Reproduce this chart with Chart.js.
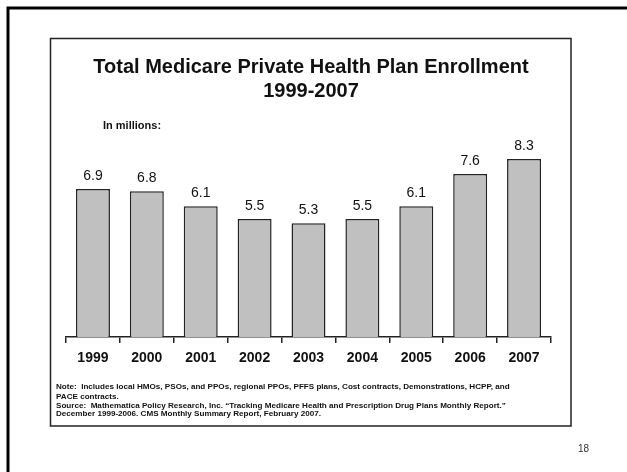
<!DOCTYPE html>
<html>
<head>
<meta charset="utf-8">
<title>Total Medicare Private Health Plan Enrollment 1999-2007</title>
<script src="https://cdn.jsdelivr.net/npm/chart.js@4/dist/chart.umd.min.js"></script>
<style>
  html, body { margin: 0; padding: 0; background: #fff; }
  #wrap { width: 627px; height: 472px; position: relative; }
</style>
</head>
<body>
<div id="wrap"><canvas id="chart" width="627" height="472"></canvas></div>
<script>
// Enrollment by year, in millions
const years = ['1999', '2000', '2001', '2002', '2003', '2004', '2005', '2006', '2007'];
const enrollment = [6.9, 6.8, 6.1, 5.5, 5.3, 5.5, 6.1, 7.6, 8.3];

const titleLines = ['Total Medicare Private Health Plan Enrollment', '1999-2007'];
const unitLabel = 'In millions:';
const noteLines = [
  'Note:  Includes local HMOs, PSOs, and PPOs, regional PPOs, PFFS plans, Cost contracts, Demonstrations, HCPP, and',
  'PACE contracts.',
  'Source:  Mathematica Policy Research, Inc. \u201cTracking Medicare Health and Prescription Drug Plans Monthly Report.\u201d',
  'December 1999-2006. CMS Monthly Summary Report, February 2007.'
];
const pageNumber = '18';

const FONT = '"Liberation Sans", Arial, Helvetica, sans-serif';
const INK = '#111';

// Slide frame, boxed panel, headings and footnotes
const decorations = {
  id: 'decorations',
  beforeDraw(chart) {
    const ctx = chart.ctx;
    ctx.save();
    ctx.fillStyle = '#fff';
    ctx.fillRect(0, 0, chart.width, chart.height);
    // slide frame: top and left rules
    ctx.strokeStyle = '#000';
    ctx.lineWidth = 3;
    ctx.beginPath();
    ctx.moveTo(6.5, 8); ctx.lineTo(chart.width, 8);
    ctx.moveTo(8, 6.5); ctx.lineTo(8, chart.height);
    ctx.stroke();
    // panel box
    ctx.lineWidth = 1.5;
    ctx.strokeStyle = '#222';
    ctx.strokeRect(50.5, 38.5, 520.5, 387.5);
    ctx.restore();
  },
  afterDraw(chart) {
    const ctx = chart.ctx;
    ctx.save();
    ctx.fillStyle = INK;
    ctx.textBaseline = 'alphabetic';
    ctx.textAlign = 'center';
    ctx.font = 'bold 20px ' + FONT;
    ctx.fillText(titleLines[0], 311, 72.5);
    ctx.fillText(titleLines[1], 311, 96.5);
    ctx.textAlign = 'left';
    ctx.font = 'bold 11px ' + FONT;
    ctx.fillText(unitLabel, 103, 129);
    ctx.font = 'bold 8.1px ' + FONT;
    const noteY = [389, 399, 408, 416];
    noteLines.forEach((t, i) => ctx.fillText(t, 56, noteY[i]));
    ctx.font = '10px ' + FONT;
    ctx.fillStyle = '#333';
    ctx.fillText(pageNumber, 578, 452);
    ctx.restore();
  }
};

// Value labels above each bar
const valueLabels = {
  id: 'valueLabels',
  afterDatasetsDraw(chart) {
    const ctx = chart.ctx;
    const meta = chart.getDatasetMeta(0);
    ctx.save();
    ctx.fillStyle = INK;
    ctx.font = '14px ' + FONT;
    ctx.textAlign = 'center';
    ctx.textBaseline = 'alphabetic';
    meta.data.forEach((bar, i) => {
      ctx.fillText(enrollment[i].toFixed(1), bar.x, bar.y - 9);
    });
    ctx.restore();
  }
};

new Chart(document.getElementById('chart'), {
  type: 'bar',
  data: {
    labels: years,
    datasets: [{
      data: enrollment,
      backgroundColor: '#c0c0c0',
      borderColor: '#222',
      borderWidth: 1.5,
      barPercentage: 0.63,
      categoryPercentage: 1
    }]
  },
  options: {
    responsive: false,
    animation: false,
    devicePixelRatio: 1,
    layout: { padding: { left: 66, right: 76, top: 144, bottom: 95 } },
    plugins: {
      legend: { display: false },
      title: { display: false },
      tooltip: { enabled: false }
    },
    scales: {
      y: {
        display: false,
        min: 0,
        max: 9
      },
      x: {
        offset: true,
        afterFit(scale) { scale.height = 40; },
        grid: {
          display: true,
          offset: true,
          drawOnChartArea: false,
          drawTicks: true,
          tickLength: 6,
          color: '#222',
          lineWidth: 1.5
        },
        border: { display: true, color: '#222', width: 1.5 },
        ticks: {
          color: INK,
          padding: 7,
          font: { family: FONT, size: 14, weight: 'bold' }
        }
      }
    }
  },
  plugins: [decorations, valueLabels]
});
</script>
</body>
</html>
